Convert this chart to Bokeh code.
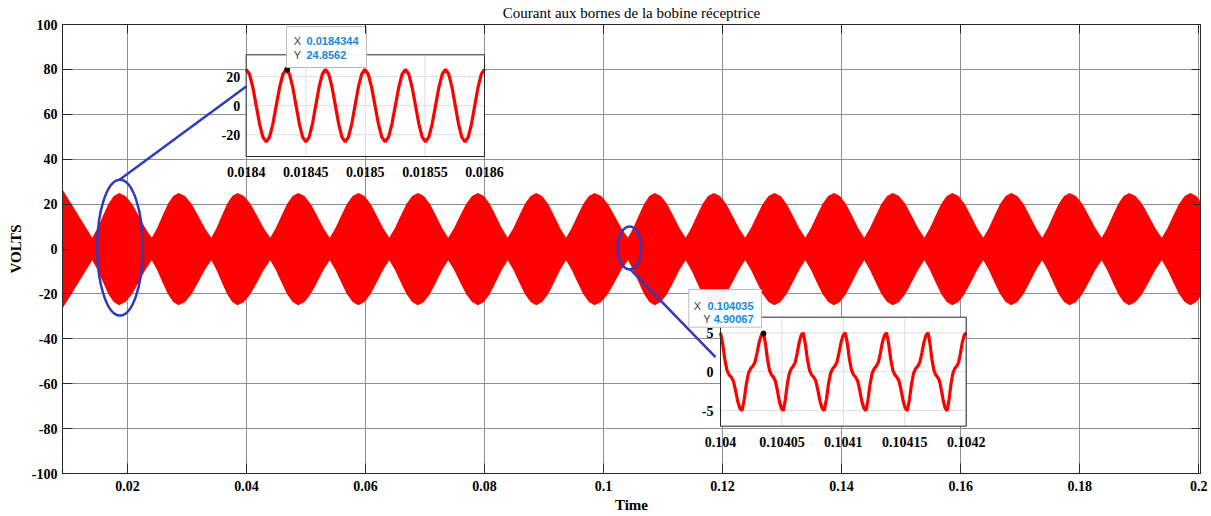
import numpy as np
from bokeh.plotting import figure
from bokeh.models import Range1d, LinearAxis, FixedTicker
from bokeh.embed import file_html
from bokeh.resources import INLINE
from bokeh.core.properties import value

# ---------------- data ----------------
TITLE = "Courant aux bornes de la bobine réceptrice"
X_LABEL = "Time"
Y_LABEL = "VOLTS"

x_ticks = [0.02, 0.04, 0.06, 0.08, 0.1, 0.12, 0.14, 0.16, 0.18, 0.2]
x_tick_labels = ["0.02", "0.04", "0.06", "0.08", "0.1", "0.12", "0.14", "0.16", "0.18", "0.2"]
y_ticks = [-100, -80, -60, -40, -20, 0, 20, 40, 60, 80, 100]
y_tick_labels = ["-100", "-80", "-60", "-40", "-20", "0", "20", "40", "60", "80", "100"]

# envelope of the (dense 30 kHz) signal: +/- amplitude
env_start_t = 0.0091
env_start_v = 26.5
env_peak_t = [0.0186, 0.0286, 0.0385, 0.0487, 0.0588, 0.0688, 0.0789, 0.0887, 0.0985, 0.1086,
              0.1185, 0.1287, 0.1387, 0.1486, 0.1586, 0.1685, 0.1783, 0.1883, 0.1986]
env_trough_t = [0.0141, 0.0241, 0.0341, 0.0440, 0.0540, 0.0640, 0.0739, 0.0839, 0.0937, 0.1041,
                0.1138, 0.1238, 0.1339, 0.1438, 0.1539, 0.1638, 0.1737, 0.1837, 0.1938, 0.2036]
env_shape_frac = [0.0, 0.2, 0.4, 0.6, 0.8, 1.0]
env_shape_amp = [25.0, 23.6, 20.0, 14.8, 9.3, 5.0]

# zoom 1 (around a beat maximum)
z1_x_lim = (0.0184, 0.0186)
z1_y_lim = (-35, 35)
z1_peak_t = [0.0184, 0.0184336, 0.0184666, 0.0184996, 0.0185337, 0.0185673, 0.0186]
z1_cycle_v = [24.9, 21.6, 12.5, 0.0, -12.5, -21.6, -24.9, -21.6, -12.5, 0.0, 12.5, 21.6]
z1_x_ticks = [0.0184, 0.01845, 0.0185, 0.01855, 0.0186]
z1_x_tick_labels = ["0.0184", "0.01845", "0.0185", "0.01855", "0.0186"]
z1_y_ticks = [-20, 0, 20]
z1_y_tick_labels = ["-20", "0", "20"]
z1_tip_x, z1_tip_y = 0.0184344, 24.8562

# zoom 2 (around a beat minimum)
z2_x_lim = (0.104, 0.1042)
z2_y_lim = (-7, 7)
z2_peak_t = [0.104, 0.104035, 0.1040673, 0.1041016, 0.1041352, 0.104169, 0.1042]
z2_cycle_v = [5.0, 3.6, 1.6, 0.2, -0.4, -0.7, -1.2, -2.4, -3.8, -4.7,
              -5.0, -3.6, -1.6, -0.2, 0.4, 0.7, 1.2, 2.4, 3.8, 4.7]
z2_x_ticks = [0.104, 0.10405, 0.1041, 0.10415, 0.1042]
z2_x_tick_labels = ["0.104", "0.10405", "0.1041", "0.10415", "0.1042"]
z2_y_ticks = [-5, 0, 5]
z2_y_tick_labels = ["-5", "0", "5"]
z2_tip_x, z2_tip_y = 0.104035, 4.90067

# ---------------- build series from the read values ----------------
ext = sorted([(t, 1) for t in env_peak_t] + [(t, 0) for t in env_trough_t])
env_t, env_v = [env_start_t], [env_start_v]
for (ta, pa), (tb, pb) in zip(ext[:-1], ext[1:]):
    amps = env_shape_amp if pa == 1 else env_shape_amp[::-1]
    for f, a in zip(env_shape_frac[:-1], amps[:-1]):
        env_t.append(ta + f * (tb - ta))
        env_v.append(a)
env_t.append(ext[-1][0])
env_v.append(env_shape_amp[0] if ext[-1][1] == 1 else env_shape_amp[-1])
env_t = np.array(env_t)
env_v = np.array(env_v)


def cycles(peaks, cyc):
    n = len(cyc)
    t, v = [], []
    for a, b in zip(peaks[:-1], peaks[1:]):
        for i, val in enumerate(cyc):
            t.append(a + (b - a) * i / n)
            v.append(val)
    t.append(peaks[-1])
    v.append(cyc[0])
    return t, v


z1_t, z1_v = cycles(z1_peak_t, z1_cycle_v)
z2_t, z2_v = cycles(z2_peak_t, z2_cycle_v)

# ---------------- layout ----------------
W, H = 1211, 516
ML, MR, MT, MB = 62, 11, 24, 43
X_LO, X_HI = 0.0091, 0.2003
Y_LO, Y_HI = -100, 100
F_L, F_R, F_T, F_B = ML, W - MR, MT, H - MB  # frame in page px


def px_x(sx):
    return X_LO + (sx - F_L) * (X_HI - X_LO) / (F_R - F_L)


def px_y(sy):
    return Y_HI - (sy - F_T) * (Y_HI - Y_LO) / (F_B - F_T)


def px_w(w):
    return w * (X_HI - X_LO) / (F_R - F_L)


def px_h(h):
    return h * (Y_HI - Y_LO) / (F_B - F_T)


p = figure(width=W, height=H, output_backend="svg", toolbar_location=None, title=TITLE,
           x_range=Range1d(X_LO, X_HI), y_range=Range1d(Y_LO, Y_HI),
           min_border_left=ML, min_border_right=MR, min_border_top=MT, min_border_bottom=MB,
           background_fill_color="white", border_fill_color="white")
p.outline_line_color = "#262626"

SERIF = "Liberation Serif"
SANS = "Liberation Sans"
TICK_FS = "14px"
AX = "#262626"

p.title.text_font = SERIF
p.title.text_font_size = "15px"
p.title.text_font_style = "normal"
p.title.text_color = "black"
p.title.align = "center"
p.title.vertical_align = "top"
p.title.standoff = 4

xa = p.xaxis[0]
xa.ticker = FixedTicker(ticks=x_ticks)
xa.major_label_overrides = {t: l for t, l in zip(x_ticks, x_tick_labels)}
ya = p.yaxis[0]
ya.ticker = FixedTicker(ticks=y_ticks)
ya.major_label_overrides = {t: l for t, l in zip(y_ticks, y_tick_labels)}
for ax in (xa, ya):
    ax.major_label_text_font = SERIF
    ax.major_label_text_font_style = "bold"
    ax.major_label_text_font_size = TICK_FS
    ax.major_label_text_color = "black"
    ax.major_tick_in = 10
    ax.major_tick_out = 0
    ax.minor_tick_line_color = None
    ax.axis_line_color = AX
    ax.major_tick_line_color = AX
    ax.axis_label_text_font = SERIF
    ax.axis_label_text_font_style = "bold"
    ax.axis_label_text_font_size = "15px"
    ax.axis_label_text_color = "black"
xa.major_label_standoff = 7
ya.major_label_standoff = 5
xa.axis_label = X_LABEL
ya.axis_label = Y_LABEL
xa.axis_label_standoff = 3
ya.axis_label_standoff = 5

top = LinearAxis(ticker=FixedTicker(ticks=x_ticks), major_label_text_font_size="0px",
                 major_label_overrides={t: "" for t in x_ticks}, major_label_standoff=0,
                 major_tick_in=9, major_tick_out=0, minor_tick_line_color=None,
                 axis_line_color=AX, major_tick_line_color=AX)
right = LinearAxis(ticker=FixedTicker(ticks=y_ticks), major_label_text_font_size="0px",
                   major_label_overrides={t: "" for t in y_ticks}, major_label_standoff=0,
                   major_tick_in=9, major_tick_out=0, minor_tick_line_color=None,
                   axis_line_color=AX, major_tick_line_color=AX)
p.add_layout(top, "above")
p.add_layout(right, "right")

p.xgrid.ticker = FixedTicker(ticks=x_ticks)
p.ygrid.ticker = FixedTicker(ticks=y_ticks)
p.grid.grid_line_color = "#8f8f8f"
p.grid.grid_line_width = 1

RED = "#ff0000"
BLUE = "#2d3bbd"

# main signal (dense carrier appears as filled band)
p.varea(x=env_t, y1=-env_v, y2=env_v, fill_color=RED)

# ---------------- insets (placed through extra ranges) ----------------
Z1_RECT = (px_x(245.7), px_x(484.0), px_y(156.0), px_y(54.3))
Z2_RECT = (px_x(720.0), px_x(965.7), px_y(425.7), px_y(316.7))


def inset_range(lim, a0, a1, main_lo, main_hi):
    k = (lim[1] - lim[0]) / (a1 - a0)
    return Range1d(lim[0] + (main_lo - a0) * k, lim[0] + (main_hi - a0) * k)


p.extra_x_ranges = {"z1": inset_range(z1_x_lim, Z1_RECT[0], Z1_RECT[1], X_LO, X_HI),
                    "z2": inset_range(z2_x_lim, Z2_RECT[0], Z2_RECT[1], X_LO, X_HI)}
p.extra_y_ranges = {"z1": inset_range(z1_y_lim, Z1_RECT[2], Z1_RECT[3], Y_LO, Y_HI),
                    "z2": inset_range(z2_y_lim, Z2_RECT[2], Z2_RECT[3], Y_LO, Y_HI)}

insets = [
    ("z1", Z1_RECT, z1_x_lim, z1_y_lim, z1_t, z1_v, z1_x_ticks, z1_x_tick_labels,
     z1_y_ticks, z1_y_tick_labels, 15, -6),
    ("z2", Z2_RECT, z2_x_lim, z2_y_lim, z2_t, z2_v, z2_x_ticks, z2_x_tick_labels,
     z2_y_ticks, z2_y_tick_labels, 16, -7),
]
for name, rect, xl, yl, tt, vv, xt, xtl, yt, ytl, xoff, yoff in insets:
    p.quad(left=[rect[0]], right=[rect[1]], bottom=[rect[2]], top=[rect[3]],
           fill_color="white", line_color=None)
    kw = dict(x_range_name=name, y_range_name=name)
    p.segment(x0=xt, x1=xt, y0=[yl[0]] * len(xt), y1=[yl[1]] * len(xt),
              line_color="#dedede", line_width=1, **kw)
    p.segment(x0=[xl[0]] * len(yt), x1=[xl[1]] * len(yt), y0=yt, y1=yt,
              line_color="#dedede", line_width=1, **kw)
    p.line(x=tt, y=vv, line_color=RED, line_width=3.2, **kw)
    p.quad(left=[rect[0]], right=[rect[1]], bottom=[rect[2]], top=[rect[3]],
           fill_color=None, line_color=AX, line_width=1)
    p.text(x=xt, y=[yl[0]] * len(xt), text=xtl, y_offset=xoff,
           text_font=value(SERIF), text_font_style="bold", text_font_size=TICK_FS,
           text_align="center", text_baseline="middle", text_color="black", **kw)
    p.text(x=[xl[0]] * len(yt), y=yt, text=ytl, x_offset=yoff,
           text_font=value(SERIF), text_font_style="bold", text_font_size=TICK_FS,
           text_align="right", text_baseline="middle", text_color="black", **kw)

# zoom markers (ellipses + connectors)
p.ellipse(x=[px_x(119.5), px_x(629.0)], y=[px_y(247.2), px_y(247.5)],
          width=[px_w(45.6), px_w(23.4)], height=[px_h(135.7), px_h(43.0)],
          fill_color=None, line_color=BLUE, line_width=2.5)
p.segment(x0=[px_x(119.0), px_x(629.3)], y0=[px_y(179.3), px_y(268.3)],
          x1=[px_x(245.7), px_x(715.0)], y1=[px_y(86.0), px_y(356.7)],
          line_color=BLUE, line_width=2.5)

# data tips
p.scatter(x=[z1_tip_x], y=[z1_tip_y], size=5, color="black", x_range_name="z1", y_range_name="z1")
p.scatter(x=[z2_tip_x], y=[z2_tip_y], size=5, color="black", x_range_name="z2", y_range_name="z2")

TIP_FS = "11px"
TIP_BLUE = "#1488e0"
TIP_GRAY = "#404040"
p.quad(left=[px_x(286.0), px_x(688.3)], right=[px_x(366.0), px_x(761.0)],
       top=[px_y(26.0), px_y(289.0)], bottom=[px_y(67.0), px_y(326.7)],
       fill_color="white", fill_alpha=0.95, line_color="#bdbdbd", line_width=1)
# tip 1 (left aligned rows)
p.text(x=[px_x(293.3)] * 2, y=[px_y(40.7), px_y(54.3)], text=["X", "Y"],
       text_font=value(SANS), text_font_size=TIP_FS, text_color=TIP_GRAY,
       text_align="left", text_baseline="middle")
p.text(x=[px_x(306.0)] * 2, y=[px_y(40.7), px_y(54.3)], text=[str(z1_tip_x), str(z1_tip_y)],
       text_font=value(SANS), text_font_size=TIP_FS, text_font_style="bold", text_color=TIP_BLUE,
       text_align="left", text_baseline="middle")
# tip 2 (right aligned rows)
p.text(x=[px_x(700.5), px_x(710.0)], y=[px_y(305.0), px_y(318.3)], text=["X", "Y"],
       text_font=value(SANS), text_font_size=TIP_FS, text_color=TIP_GRAY,
       text_align="right", text_baseline="middle")
p.text(x=[px_x(753.0)] * 2, y=[px_y(305.0), px_y(318.3)], text=[str(z2_tip_x), str(z2_tip_y)],
       text_font=value(SANS), text_font_size=TIP_FS, text_font_style="bold", text_color=TIP_BLUE,
       text_align="right", text_baseline="middle")

open("out.html", "w").write(file_html(p, INLINE))
